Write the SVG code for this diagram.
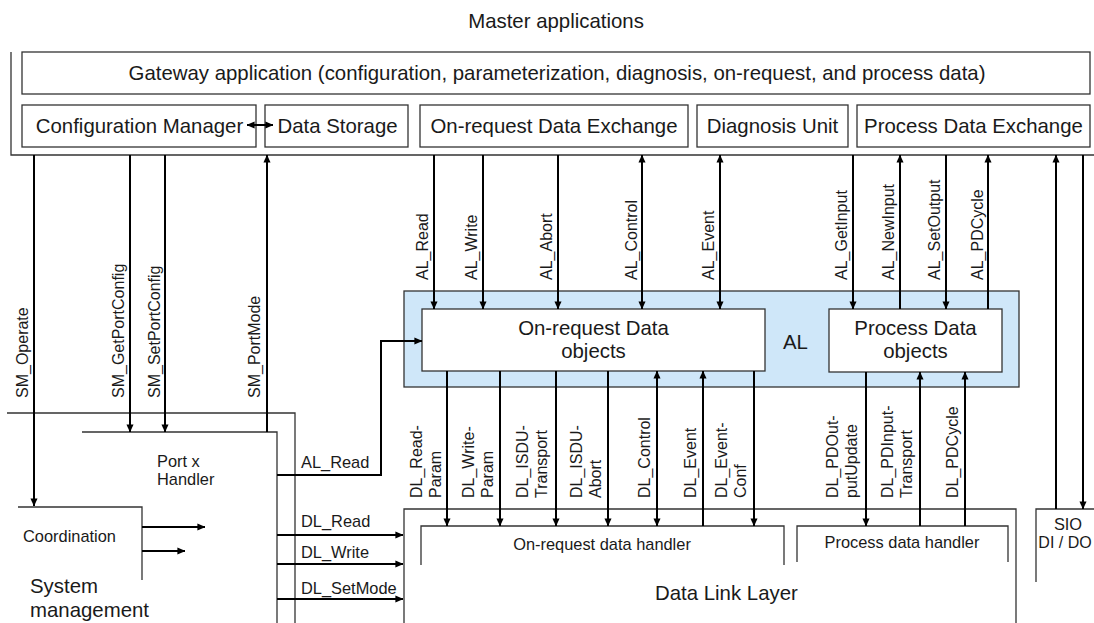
<svg xmlns="http://www.w3.org/2000/svg" width="1094" height="623" viewBox="0 0 1094 623">
<defs>
<marker id="ah" viewBox="0 0 10 10" refX="9.5" refY="5" markerWidth="8" markerHeight="8" orient="auto-start-reverse" markerUnits="userSpaceOnUse">
<path d="M0,0.6 L10,5 L0,9.4 z" fill="#000"/>
</marker>
<style>
.t20{font-family:"Liberation Sans",Arial,sans-serif;font-size:20.4px;fill:#1a1a1a}
.t16{font-family:"Liberation Sans",Arial,sans-serif;font-size:16.4px;fill:#1a1a1a}
.r{font-family:"Liberation Sans",Arial,sans-serif;font-size:16px;fill:#1a1a1a}
.m{text-anchor:middle}
.box{fill:#fff;stroke:#333;stroke-width:1.3}
.al{fill:#cfe7f9;stroke:#333;stroke-width:1.3}
.ln{fill:none;stroke:#333;stroke-width:1.3}
.c{fill:none;stroke:#000;stroke-width:2}
.e{marker-end:url(#ah)}
.b{marker-start:url(#ah);marker-end:url(#ah)}
</style>
</defs>
<rect width="1094" height="623" fill="#fff"/>

<g id="master-applications">
<path class="ln" d="M11,52 V155 H1094"/>
<text class="t20 m" x="556" y="28">Master applications</text>
</g>

<g id="gateway-application">
<rect class="box" x="22" y="52" width="1068" height="42"/>
<text class="t20 m" x="557" y="80">Gateway application (configuration, parameterization, diagnosis, on-request, and process data)</text>
</g>

<g id="configuration-manager">
<rect class="box" x="22" y="105" width="234" height="42"/>
<text class="t20 m" x="139.5" y="133">Configuration Manager</text>
</g>
<g id="data-storage">
<rect class="box" x="265" y="105" width="143" height="42"/>
<text class="t20 m" x="337.5" y="133">Data Storage</text>
</g>
<g id="on-request-data-exchange">
<rect class="box" x="420" y="105" width="268" height="42"/>
<text class="t20 m" x="554" y="133">On-request Data Exchange</text>
</g>
<g id="diagnosis-unit">
<rect class="box" x="697" y="105" width="151" height="42"/>
<text class="t20 m" x="772.5" y="133">Diagnosis Unit</text>
</g>
<g id="process-data-exchange">
<rect class="box" x="857" y="105" width="233" height="42"/>
<text class="t20 m" x="973.5" y="133">Process Data Exchange</text>
</g>

<g id="al">
<rect class="al" x="404" y="291" width="615" height="96"/>
<text class="t20" x="783" y="349">AL</text>
</g>
<g id="on-request-data-objects">
<rect class="box" x="422" y="309" width="343" height="62"/>
<text class="t20 m" x="593.5" y="335">On-request Data</text>
<text class="t20 m" x="593.5" y="358">objects</text>
</g>
<g id="process-data-objects">
<rect class="box" x="829" y="309" width="173" height="63"/>
<text class="t20 m" x="915.5" y="335">Process Data</text>
<text class="t20 m" x="915.5" y="358">objects</text>
</g>

<g id="port-x-handler">
<path class="ln" d="M7,413 H295 V623"/>
<path class="ln" d="M82,432 H277 V623"/>
<text class="t16" x="157" y="467">Port x</text>
<text class="t16" x="157" y="485">Handler</text>
</g>

<g id="coordination">
<path class="ln" d="M18,507 H142 V580"/>
<text class="t16" x="23" y="542">Coordination</text>
</g>

<g id="system-management">
<text class="t20" x="30" y="593">System</text>
<text class="t20" x="30" y="617">management</text>
</g>

<g id="data-link-layer">
<path class="ln" d="M404,623 V509 H1016 V623"/>
<text class="t20" x="655" y="600">Data Link Layer</text>
</g>
<g id="on-request-data-handler">
<path class="ln" d="M421,565 V526 H784 V565"/>
<text class="t16 m" x="602" y="550">On-request data handler</text>
</g>
<g id="process-data-handler">
<path class="ln" d="M797,562 V526 H1008 V562"/>
<text class="t16 m" x="902" y="548">Process data handler</text>
</g>
<g id="sio">
<path class="ln" d="M1036,582 V509 H1094"/>
<text class="t16 m" x="1068" y="530">SIO</text>
<text class="r m" x="1065" y="548">DI / DO</text>
</g>

<g id="connectors">
<path class="c b" d="M247,125 H273"/>

<path class="c e" d="M34,155 V506"/>
<text class="r" transform="translate(28,398) rotate(-90)">SM_Operate</text>
<path class="c e" d="M130,155 V432"/>
<text class="r" transform="translate(124,398) rotate(-90)">SM_GetPortConfig</text>
<path class="c e" d="M165,155 V432"/>
<text class="r" transform="translate(160,398) rotate(-90)">SM_SetPortConfig</text>
<path class="c e" d="M267,432 V155"/>
<text class="r" transform="translate(260,398) rotate(-90)">SM_PortMode</text>

<path class="c e" d="M434,155 V309"/>
<text class="r" transform="translate(428,280) rotate(-90)">AL_Read</text>
<path class="c e" d="M483,155 V309"/>
<text class="r" transform="translate(477,280) rotate(-90)">AL_Write</text>
<path class="c e" d="M558,155 V309"/>
<text class="r" transform="translate(552,280) rotate(-90)">AL_Abort</text>
<path class="c b" d="M642,155 V309"/>
<text class="r" transform="translate(637,280) rotate(-90)">AL_Control</text>
<path class="c b" d="M720,155 V309"/>
<text class="r" transform="translate(714,280) rotate(-90)">AL_Event</text>
<path class="c e" d="M853,155 V309"/>
<text class="r" transform="translate(847,280) rotate(-90)">AL_GetInput</text>
<path class="c e" d="M900,309 V155"/>
<text class="r" transform="translate(894,280) rotate(-90)">AL_NewInput</text>
<path class="c e" d="M946,155 V309"/>
<text class="r" transform="translate(940,280) rotate(-90)">AL_SetOutput</text>
<path class="c e" d="M988,309 V155"/>
<text class="r" transform="translate(983,280) rotate(-90)">AL_PDCycle</text>

<path class="c e" d="M1056,509 V155"/>
<path class="c e" d="M1083,155 V509"/>

<path class="c e" d="M277,475 H381 V341 H422"/>
<text class="t16" x="301" y="468">AL_Read</text>
<path class="c e" d="M277,535 H403"/>
<text class="t16" x="301" y="527">DL_Read</text>
<path class="c e" d="M277,564 H403"/>
<text class="t16" x="301" y="558">DL_Write</text>
<path class="c e" d="M277,599 H403"/>
<text class="t16" x="301" y="594">DL_SetMode</text>

<path class="c e" d="M142,527 H205"/>
<path class="c e" d="M142,551 H185"/>

<path class="c e" d="M447,371 V526"/>
<text class="r" transform="translate(422,498) rotate(-90)">DL_Read-<tspan x="0" dy="19">Param</tspan></text>
<path class="c e" d="M500,371 V526"/>
<text class="r" transform="translate(474,498) rotate(-90)">DL_Write-<tspan x="0" dy="19">Param</tspan></text>
<path class="c e" d="M556,371 V526"/>
<text class="r" transform="translate(528,498) rotate(-90)">DL_ISDU-<tspan x="0" dy="19">Transport</tspan></text>
<path class="c e" d="M608,371 V526"/>
<text class="r" transform="translate(582,498) rotate(-90)">DL_ISDU-<tspan x="0" dy="19">Abort</tspan></text>
<path class="c b" d="M657,371 V526"/>
<text class="r" transform="translate(650,498) rotate(-90)">DL_Control</text>
<path class="c e" d="M703,526 V371"/>
<text class="r" transform="translate(696,498) rotate(-90)">DL_Event</text>
<path class="c e" d="M754,371 V526"/>
<text class="r" transform="translate(727,498) rotate(-90)">DL_Event-<tspan x="0" dy="19">Conf</tspan></text>

<path class="c e" d="M866,372 V526"/>
<text class="r" transform="translate(838,498) rotate(-90)">DL_PDOut-<tspan x="0" dy="19">putUpdate</tspan></text>
<path class="c e" d="M920,526 V372"/>
<text class="r" transform="translate(893,498) rotate(-90)">DL_PDInput-<tspan x="0" dy="19">Transport</tspan></text>
<path class="c e" d="M965,526 V372"/>
<text class="r" transform="translate(958,498) rotate(-90)">DL_PDCycle</text>
</g>
</svg>
